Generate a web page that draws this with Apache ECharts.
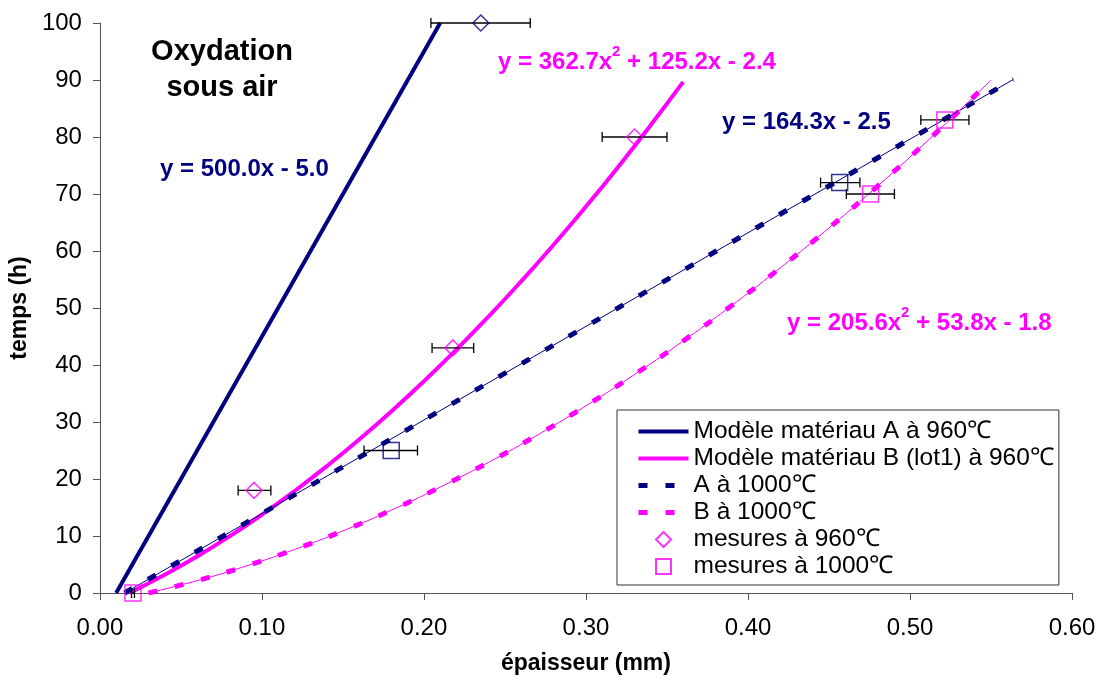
<!DOCTYPE html>
<html><head><meta charset="utf-8">
<script src="https://cdn.jsdelivr.net/npm/echarts@6/dist/echarts.min.js"></script>
<style>html,body{margin:0;padding:0;background:#fff}#c{width:1103px;height:680px}</style>
</head><body><div id="c"></div>
<script>
// ---- data ----
const seriesNames = ['Modèle matériau A à 960℃', 'Modèle matériau B (lot1) à 960℃', 'A à 1000℃', 'B à 1000℃', 'mesures à 960℃', 'mesures à 1000℃'];
const modelA960 = [[0.010, 0], [0.210, 100]];
const modelB960 = [[0.0182, 0], [0.04, 3.19], [0.06, 6.42], [0.08, 9.94], [0.10, 13.75], [0.12, 17.85], [0.14, 22.24], [0.16, 26.92], [0.18, 31.89], [0.20, 37.15], [0.22, 42.70], [0.24, 48.54], [0.26, 54.67], [0.28, 61.09], [0.30, 67.80], [0.32, 74.80], [0.34, 82.10], [0.36, 89.68]];
const fitA1000 = [[0.0152, 0], [0.5638, 90.1]];
const fitB1000 = [[0.030, 0], [0.06, 2.17], [0.09, 4.71], [0.12, 7.62], [0.15, 10.90], [0.18, 14.55], [0.21, 18.57], [0.24, 22.95], [0.27, 27.71], [0.30, 32.84], [0.33, 38.34], [0.36, 44.21], [0.39, 50.45], [0.42, 57.06], [0.45, 64.04], [0.48, 71.39], [0.51, 79.12], [0.55, 89.98]];
const meas960B = [[0.0951, 18], [0.2178, 43], [0.330, 80]];
const meas960A = [[0.2351, 100]];
const meas1000B = [[0.0204, 0], [0.4757, 70], [0.5215, 83]];
const meas1000A = [[0.1798, 25], [0.4566, 72]];
// [x, y, low, high]
const errorBars = [[0.0951, 18, 0.0853, 0.1055], [0.2178, 43, 0.205, 0.2307], [0.330, 80, 0.310, 0.350], [0.2351, 100, 0.2043, 0.2656], [0.1798, 25, 0.163, 0.196], [0.4566, 72, 0.4448, 0.4691], [0.4757, 70, 0.4607, 0.4904], [0.5215, 83, 0.5067, 0.5364], [0.0204, 0, 0.0195, 0.0213]];
const annotations = ['Oxydation\nsous air', 'y = 500.0x - 5.0', ['y = 362.7x', '2', ' + 125.2x - 2.4'], 'y = 164.3x - 2.5', ['y = 205.6x', '2', ' + 53.8x - 1.8']];

const NAVY = '#000080', MAG = '#FF00FF';
const FONT = "'Liberation Sans', Arial, sans-serif";
const chart = echarts.init(document.getElementById('c'), null, {renderer: 'canvas'});

function rich(parts, color) {
  return {
    text: '{a|' + parts[0] + '}{s|' + parts[1] + '}{a|' + parts[2] + '}',
    rich: {
      a: {fontFamily: FONT, fontWeight: 'bold', fontSize: 24, fill: color, color: color, lineHeight: 30, verticalAlign: 'bottom'},
      s: {fontFamily: FONT, fontWeight: 'bold', fontSize: 15, fill: color, color: color, lineHeight: 30, verticalAlign: 'top'}
    }
  };
}

const option = {
  backgroundColor: '#fff',
  animation: false,
  textStyle: {fontFamily: FONT},
  grid: {left: 94, right: 31, top: 23, bottom: 84},
  xAxis: {
    type: 'value', min: 0, max: 0.6, interval: 0.1,
    name: 'épaisseur (mm)', nameLocation: 'middle', nameGap: 59,
    nameTextStyle: {fontFamily: FONT, fontWeight: 'bold', fontSize: 23, color: '#000'},
    axisLine: {onZero: false, lineStyle: {color: '#555', width: 1}},
    axisTick: {show: true, inside: false, length: 7, lineStyle: {color: '#555'}},
    axisLabel: {fontFamily: FONT, fontSize: 24, color: '#000', margin: 23, formatter: v => v.toFixed(2)},
    splitLine: {show: false}
  },
  yAxis: {
    type: 'value', min: 0, max: 100, interval: 10,
    name: 'temps (h)', nameLocation: 'middle', nameGap: 64, nameRotate: 90,
    nameTextStyle: {fontFamily: FONT, fontWeight: 'bold', fontSize: 23, color: '#000'},
    axisLine: {show: true, onZero: false, lineStyle: {color: '#555', width: 1}},
    axisTick: {show: true, inside: false, length: 7, lineStyle: {color: '#555'}},
    axisLabel: {fontFamily: FONT, fontSize: 24, color: '#000', margin: 18},
    splitLine: {show: false}
  },
  legend: {
    orient: 'vertical', left: 617, top: 410,
    padding: [8, 5, 5, 19], itemGap: 0, itemWidth: 50, itemHeight: 16,
    backgroundColor: '#fff', borderColor: '#333', borderWidth: 1,
    textStyle: {fontFamily: FONT, fontSize: 24.5, color: '#000', lineHeight: 27},
    data: [
      {name: seriesNames[0], itemStyle: {opacity: 0}, lineStyle: {width: 4}},
      {name: seriesNames[1], itemStyle: {opacity: 0}, lineStyle: {width: 4}},
      {name: seriesNames[2], itemStyle: {opacity: 0}, lineStyle: {width: 5}},
      {name: seriesNames[3], itemStyle: {opacity: 0}, lineStyle: {width: 5}},
      {name: seriesNames[4], icon: 'path://M0,0L0,0M50,16L50,16M17.5,8L25,0.5L32.5,8L25,15.5Z'},
      {name: seriesNames[5], icon: 'path://M0,0L0,0M50,16L50,16M17.5,0.5H32.5V15.5H17.5Z'}
    ]
  },
  graphic: [
    {type: 'text', z: 100, style: {x: 222, y: 70, text: annotations[0], align: 'center', verticalAlign: 'middle', font: 'bold 29px ' + FONT, lineHeight: 36, fill: '#000'}},
    {type: 'text', z: 100, style: {x: 160, y: 169, text: annotations[1], verticalAlign: 'middle', font: 'bold 24px ' + FONT, fill: NAVY}},
    {type: 'text', z: 100, style: Object.assign({x: 498, y: 59, verticalAlign: 'middle'}, rich(annotations[2], MAG))},
    {type: 'text', z: 100, style: {x: 722, y: 122, text: annotations[3], verticalAlign: 'middle', font: 'bold 24px ' + FONT, fill: NAVY}},
    {type: 'text', z: 100, style: Object.assign({x: 787, y: 320, verticalAlign: 'middle'}, rich(annotations[4], MAG))}
  ],
  series: [
    {name: seriesNames[0], type: 'line', data: modelA960, symbol: 'none', z: 3,
     lineStyle: {color: NAVY, width: 4}, itemStyle: {color: NAVY}},
    {name: seriesNames[1], type: 'line', data: modelB960, symbol: 'none', smooth: true, z: 3,
     lineStyle: {color: MAG, width: 4}, itemStyle: {color: MAG}},
    {name: seriesNames[2], type: 'line', data: fitA1000, symbol: 'none', z: 3,
     lineStyle: {color: NAVY, width: 5, type: [9, 18], cap: 'butt'}, itemStyle: {color: NAVY}},
    {name: seriesNames[3], type: 'line', data: fitB1000, symbol: 'none', smooth: true, z: 3,
     lineStyle: {color: MAG, width: 5, type: [9, 18], cap: 'butt'}, itemStyle: {color: MAG}},
    {name: 'trendA1000', type: 'line', data: fitA1000, symbol: 'none', z: 4, silent: true,
     lineStyle: {color: NAVY, width: 1}},
    {name: 'trendB1000', type: 'line', data: fitB1000, symbol: 'none', smooth: true, z: 4, silent: true,
     lineStyle: {color: MAG, width: 1}},
    {name: 'errors', type: 'custom', z: 5, silent: true, clip: false,
     data: errorBars, encode: {x: [0, 2, 3], y: 1},
     renderItem: function (params, api) {
       const y = api.value(1);
       const p1 = api.coord([api.value(2), y]);
       const p2 = api.coord([api.value(3), y]);
       const h = 5, st = {stroke: '#000', lineWidth: 1.3};
       return {type: 'group', children: [
         {type: 'line', shape: {x1: p1[0], y1: p1[1], x2: p2[0], y2: p2[1]}, style: st},
         {type: 'line', shape: {x1: p1[0], y1: p1[1] - h, x2: p1[0], y2: p1[1] + h}, style: st},
         {type: 'line', shape: {x1: p2[0], y1: p2[1] - h, x2: p2[0], y2: p2[1] + h}, style: st}
       ]};
     }},
    {name: seriesNames[4], type: 'scatter', symbol: 'diamond', symbolSize: 16, z: 6, clip: false,
     data: meas960B.map(d => ({value: d}))
       .concat(meas960A.map(d => ({value: d, itemStyle: {borderColor: NAVY}}))),
     itemStyle: {color: 'rgba(255,255,255,0)', borderColor: MAG, borderWidth: 1.5}},
    {name: seriesNames[5], type: 'scatter', symbol: 'rect', symbolSize: 16, z: 6, clip: false,
     data: meas1000B.map(d => ({value: d}))
       .concat(meas1000A.map(d => ({value: d, itemStyle: {borderColor: NAVY}}))),
     itemStyle: {color: 'rgba(255,255,255,0)', borderColor: MAG, borderWidth: 1.5}}
  ]
};
chart.setOption(option);
</script></body></html>
